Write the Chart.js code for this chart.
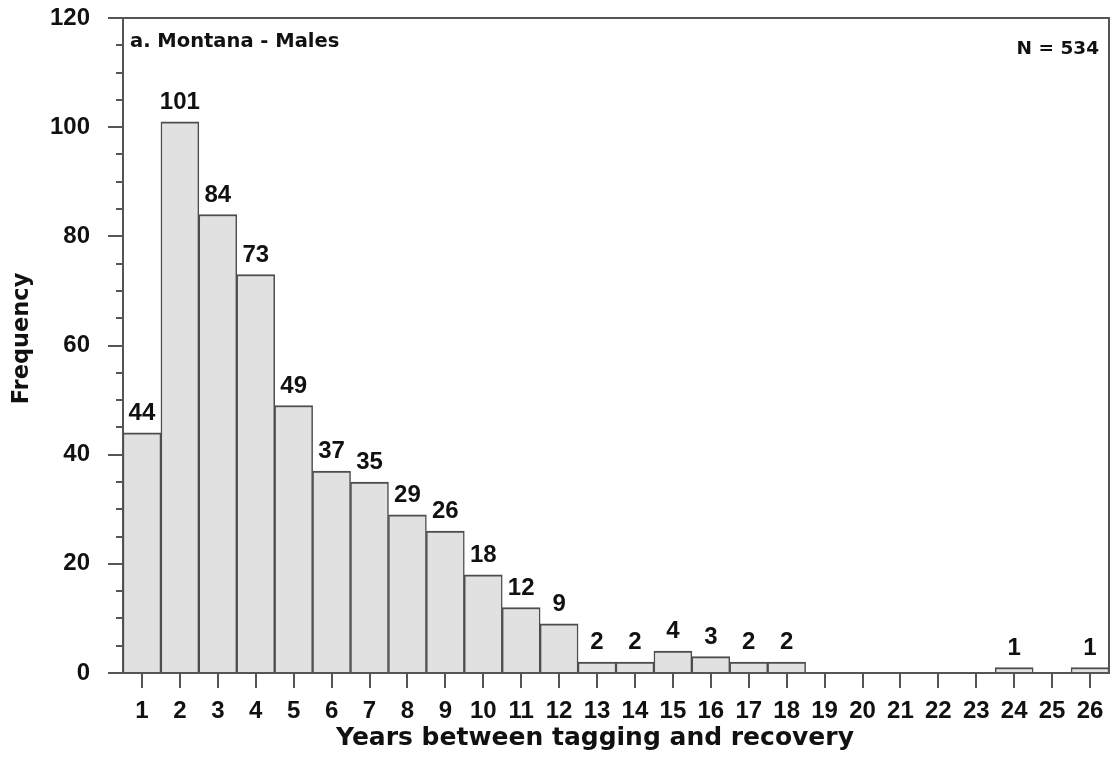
<!DOCTYPE html>
<html>
<head>
<meta charset="utf-8">
<title>Montana - Males: years between tagging and recovery</title>
<script src="https://cdn.jsdelivr.net/npm/chart.js@4.4.1/dist/chart.umd.min.js"></script>
<style>
  html, body { margin: 0; padding: 0; background: #ffffff; }
  #wrap { width: 1118px; height: 773px; }
</style>
</head>
<body>
<div id="wrap"><canvas id="chart" width="1118" height="773"></canvas></div>
<script>
// Years between tagging and recovery (categories) and number of recoveries
const years = ['1','2','3','4','5','6','7','8','9','10','11','12','13',
               '14','15','16','17','18','19','20','21','22','23','24','25','26'];
const frequency = [44, 101, 84, 73, 49, 37, 35, 29, 26, 18, 12, 9, 2,
                   2, 4, 3, 2, 2, 0, 0, 0, 0, 0, 1, 0, 1];
const yMin = 0;
const yMax = 120;
const yMajorStep = 20;
const yMinorStep = 5;
const panelLabel = 'a. Montana - Males';
const sampleLabel = 'N = 534';
const xTitle = 'Years between tagging and recovery';
const yTitle = 'Frequency';

const INK = '#111111';
const AXIS = '#555555';
const NUM_FAMILY = '"Liberation Sans", Arial, sans-serif';
const NUM_FONT = 'bold 24px ' + NUM_FAMILY;
const TEXT_FAMILY = '"DejaVu Sans", "Liberation Sans", sans-serif';

// White page behind the chart
const background = {
  id: 'background',
  beforeDraw(chart) {
    const ctx = chart.ctx;
    ctx.save();
    ctx.fillStyle = '#ffffff';
    ctx.fillRect(0, 0, chart.width, chart.height);
    ctx.restore();
  }
};

// Frame lines, minor y ticks, value labels, axis titles and panel notes
const decorations = {
  id: 'decorations',
  afterDraw(chart) {
    const ctx = chart.ctx;
    const area = chart.chartArea;
    const y = chart.scales.y;

    ctx.save();
    ctx.strokeStyle = AXIS;
    ctx.lineWidth = 2;
    ctx.beginPath();
    ctx.moveTo(area.left, area.top);
    ctx.lineTo(area.right, area.top);
    ctx.lineTo(area.right, area.bottom);
    ctx.stroke();

    // minor ticks on the frequency axis
    ctx.beginPath();
    for (let v = yMin + yMinorStep; v < yMax; v += yMinorStep) {
      if (v % yMajorStep === 0) continue;
      const py = Math.round(y.getPixelForValue(v));
      ctx.moveTo(area.left - 7, py);
      ctx.lineTo(area.left, py);
    }
    ctx.stroke();

    // value above each bar
    ctx.fillStyle = INK;
    ctx.font = NUM_FONT;
    ctx.textAlign = 'center';
    ctx.textBaseline = 'alphabetic';
    const meta = chart.getDatasetMeta(0);
    meta.data.forEach((bar, i) => {
      const v = frequency[i];
      if (!v) return;
      ctx.fillText(String(v), bar.x, bar.y - 13);
    });

    // x axis title
    ctx.font = 'bold 25px ' + TEXT_FAMILY;
    ctx.textAlign = 'center';
    ctx.fillText(xTitle, area.left + 472, area.bottom + 72);

    // y axis title
    ctx.save();
    ctx.font = 'bold 22.5px ' + TEXT_FAMILY;
    ctx.translate(area.left - 95, (area.top + area.bottom) / 2 - 7);
    ctx.rotate(-Math.PI / 2);
    ctx.textAlign = 'center';
    ctx.fillText(yTitle, 0, 0);
    ctx.restore();

    // panel notes
    ctx.font = 'bold 19.5px ' + TEXT_FAMILY;
    ctx.textAlign = 'left';
    ctx.fillText(panelLabel, area.left + 7, area.top + 29);
    ctx.font = 'bold 18.5px ' + TEXT_FAMILY;
    ctx.textAlign = 'right';
    ctx.fillText(sampleLabel, area.right - 10, area.top + 36);
    ctx.restore();
  }
};

new Chart(document.getElementById('chart'), {
  type: 'bar',
  data: {
    labels: years,
    datasets: [{
      data: frequency,
      backgroundColor: '#e1e1e1',
      borderColor: '#4d4d4d',
      borderWidth: { top: 2, left: 1.5, right: 1.5, bottom: 0 },
      borderSkipped: false,
      barPercentage: 1,
      categoryPercentage: 1
    }]
  },
  options: {
    responsive: false,
    animation: false,
    devicePixelRatio: 1,
    layout: { padding: { top: 18, right: 9, left: 0, bottom: 0 } },
    plugins: {
      legend: { display: false },
      tooltip: { enabled: false },
      title: { display: false }
    },
    scales: {
      x: {
        type: 'category',
        offset: true,
        grid: {
          offset: false,
          drawOnChartArea: false,
          drawTicks: true,
          tickLength: 15,
          color: AXIS,
          lineWidth: 2
        },
        border: { display: true, color: AXIS, width: 2 },
        ticks: {
          color: INK,
          font: { family: NUM_FAMILY, size: 24, weight: 'bold' },
          padding: 9,
          maxRotation: 0,
          autoSkip: false
        },
        afterFit(scale) {
          scale.height = 100;
          scale.paddingLeft = 0;
          scale.paddingRight = 0;
        }
      },
      y: {
        min: yMin,
        max: yMax,
        grid: {
          drawOnChartArea: false,
          drawTicks: true,
          tickLength: 15,
          color: AXIS,
          lineWidth: 2
        },
        border: { display: true, color: AXIS, width: 2 },
        ticks: {
          stepSize: yMajorStep,
          color: INK,
          font: { family: NUM_FAMILY, size: 24, weight: 'bold' },
          padding: 18
        },
        afterFit(scale) {
          scale.width = 123;
          scale.paddingTop = 0;
          scale.paddingBottom = 0;
        }
      }
    }
  },
  plugins: [background, decorations]
});
</script>
</body>
</html>
